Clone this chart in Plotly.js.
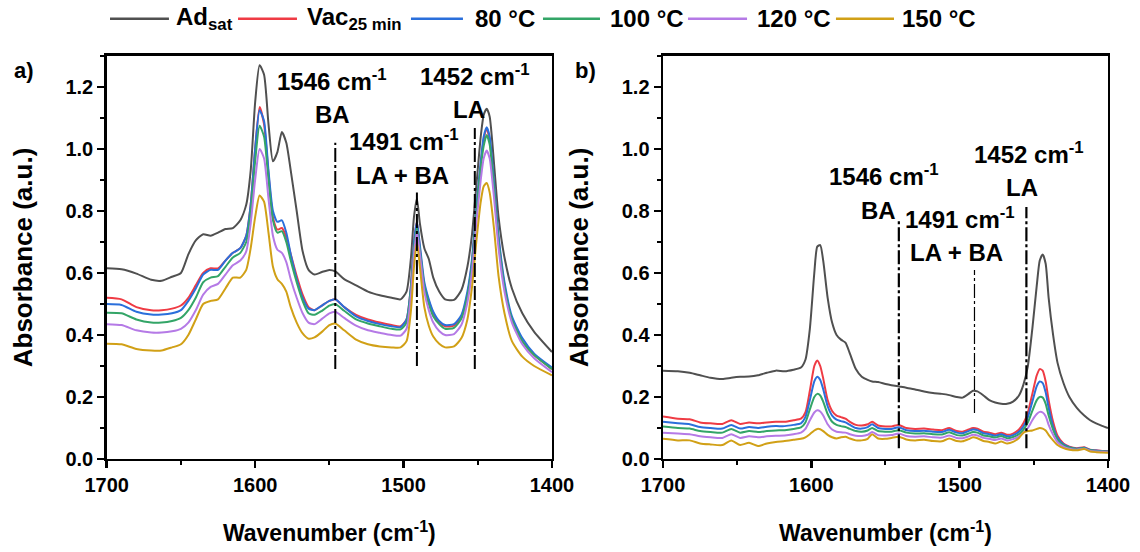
<!DOCTYPE html>
<html>
<head>
<meta charset="utf-8">
<script src="https://cdn.plot.ly/plotly-3.0.1.min.js"></script>
<style>html,body{margin:0;padding:0;background:#fff;}#chart{width:1140px;height:552px;}</style>
</head>
<body>
<div id="chart"></div>
<script>
// ---------- data ----------
const seriesNames = ["Ad<sub>sat</sub>", "Vac<sub>25 min</sub>", "80 °C", "100 °C", "120 °C", "150 °C"];
const seriesColors = ["#505050", "#ef3b44", "#2a6fdb", "#33a567", "#b57ae6", "#d1a016"];

const wnA = [1700,1690,1680,1670,1663,1656,1650,1645,1640,1635,1630,1625,1620,1615,1610,1606,1603,1600,1597,1594,1591,1588,1585,1582,1579,1576,1572,1568,1564,1560,1555,1550,1546,1540,1532,1524,1516,1508,1502,1498,1495,1493,1491,1489,1486,1483,1480,1476,1472,1466,1461,1457,1454,1451,1448,1446,1444,1442,1439,1436,1432,1427,1420,1412,1400];
const adsatA = [0.615,0.612,0.598,0.578,0.575,0.588,0.60,0.66,0.705,0.725,0.72,0.73,0.742,0.745,0.77,0.82,0.93,1.15,1.27,1.24,1.08,0.96,0.99,1.055,1.02,0.93,0.80,0.67,0.61,0.595,0.603,0.61,0.605,0.58,0.56,0.54,0.528,0.52,0.515,0.54,0.65,0.78,0.84,0.76,0.68,0.645,0.585,0.54,0.515,0.513,0.545,0.62,0.72,0.88,1.04,1.11,1.13,1.105,0.95,0.78,0.65,0.55,0.47,0.41,0.345];
const vacA = [0.52,0.515,0.49,0.48,0.48,0.485,0.495,0.52,0.56,0.60,0.615,0.615,0.64,0.665,0.68,0.72,0.82,1.0,1.135,1.08,0.92,0.78,0.74,0.745,0.715,0.66,0.59,0.53,0.49,0.48,0.495,0.51,0.515,0.49,0.465,0.45,0.44,0.432,0.428,0.45,0.56,0.70,0.765,0.68,0.56,0.51,0.47,0.44,0.428,0.43,0.46,0.53,0.63,0.8,0.95,1.03,1.065,1.03,0.88,0.71,0.56,0.45,0.38,0.335,0.29];
const t80A = [0.50,0.497,0.475,0.466,0.466,0.47,0.48,0.51,0.55,0.595,0.61,0.61,0.64,0.665,0.68,0.72,0.82,1.0,1.125,1.09,0.93,0.80,0.765,0.77,0.73,0.66,0.58,0.52,0.485,0.48,0.495,0.51,0.515,0.49,0.46,0.445,0.435,0.428,0.425,0.45,0.56,0.70,0.765,0.69,0.57,0.515,0.475,0.445,0.432,0.435,0.465,0.54,0.64,0.81,0.96,1.04,1.07,1.04,0.89,0.72,0.57,0.46,0.39,0.34,0.295];
const t100A = [0.472,0.47,0.45,0.44,0.44,0.445,0.455,0.48,0.52,0.57,0.585,0.59,0.62,0.65,0.665,0.70,0.80,0.96,1.075,1.04,0.90,0.77,0.73,0.735,0.70,0.64,0.57,0.51,0.47,0.465,0.478,0.495,0.50,0.478,0.45,0.437,0.428,0.42,0.418,0.44,0.55,0.68,0.745,0.67,0.555,0.5,0.46,0.435,0.42,0.423,0.453,0.525,0.62,0.79,0.94,1.01,1.045,1.015,0.87,0.70,0.555,0.45,0.38,0.335,0.29];
const t120A = [0.435,0.432,0.415,0.408,0.408,0.412,0.42,0.44,0.48,0.53,0.555,0.565,0.595,0.625,0.64,0.67,0.76,0.90,1.0,0.97,0.84,0.72,0.675,0.665,0.635,0.58,0.52,0.47,0.44,0.435,0.452,0.47,0.475,0.455,0.43,0.415,0.407,0.40,0.398,0.42,0.53,0.66,0.735,0.66,0.54,0.48,0.44,0.413,0.40,0.403,0.433,0.505,0.60,0.76,0.9,0.97,0.995,0.97,0.84,0.68,0.54,0.44,0.37,0.325,0.28];
const t150A = [0.372,0.37,0.355,0.35,0.35,0.36,0.37,0.40,0.45,0.50,0.51,0.515,0.55,0.585,0.585,0.61,0.68,0.78,0.85,0.83,0.73,0.62,0.58,0.565,0.54,0.49,0.44,0.405,0.388,0.392,0.41,0.432,0.437,0.415,0.385,0.37,0.363,0.36,0.36,0.38,0.48,0.62,0.70,0.62,0.49,0.43,0.395,0.372,0.36,0.363,0.39,0.45,0.55,0.70,0.83,0.88,0.89,0.86,0.74,0.59,0.47,0.38,0.33,0.30,0.27];

const wnB = [1700,1690,1682,1675,1668,1660,1654,1648,1642,1636,1630,1624,1618,1612,1607,1604,1601,1598,1596,1594,1592,1589,1586,1583,1580,1577,1574,1570,1566,1562,1559,1555,1550,1546,1541,1536,1530,1524,1518,1512,1507,1502,1498,1494,1491,1488,1484,1480,1476,1472,1468,1464,1460,1457,1454,1451,1448,1446,1444,1442,1440,1437,1434,1430,1426,1421,1416,1412,1408,1404,1400];
const adsatB = [0.285,0.283,0.278,0.27,0.262,0.258,0.262,0.265,0.266,0.27,0.278,0.285,0.283,0.288,0.295,0.32,0.42,0.6,0.685,0.69,0.64,0.52,0.44,0.40,0.385,0.375,0.34,0.29,0.265,0.255,0.25,0.248,0.242,0.238,0.234,0.23,0.224,0.218,0.213,0.21,0.206,0.2,0.198,0.21,0.22,0.218,0.205,0.19,0.182,0.178,0.178,0.185,0.205,0.24,0.3,0.42,0.56,0.64,0.66,0.63,0.52,0.40,0.31,0.245,0.2,0.165,0.14,0.125,0.115,0.107,0.10];
const vacB = [0.137,0.13,0.128,0.118,0.115,0.113,0.125,0.113,0.118,0.115,0.118,0.12,0.12,0.125,0.13,0.15,0.22,0.30,0.318,0.30,0.26,0.19,0.155,0.14,0.135,0.13,0.12,0.11,0.108,0.112,0.12,0.108,0.105,0.105,0.11,0.1,0.097,0.098,0.095,0.093,0.1,0.09,0.088,0.095,0.1,0.098,0.088,0.085,0.08,0.085,0.078,0.082,0.095,0.115,0.15,0.21,0.27,0.29,0.285,0.25,0.19,0.12,0.075,0.05,0.04,0.035,0.038,0.03,0.028,0.026,0.025];
const t80B = [0.12,0.115,0.112,0.103,0.1,0.098,0.11,0.098,0.103,0.1,0.104,0.106,0.106,0.11,0.115,0.135,0.19,0.25,0.265,0.255,0.225,0.17,0.14,0.127,0.122,0.118,0.11,0.1,0.098,0.103,0.112,0.1,0.097,0.097,0.102,0.093,0.09,0.091,0.088,0.087,0.094,0.085,0.083,0.09,0.095,0.093,0.083,0.08,0.075,0.08,0.073,0.077,0.088,0.105,0.135,0.185,0.235,0.25,0.245,0.215,0.165,0.105,0.068,0.047,0.038,0.033,0.036,0.029,0.027,0.025,0.024];
const t100B = [0.105,0.1,0.098,0.09,0.087,0.085,0.097,0.085,0.09,0.087,0.09,0.092,0.093,0.097,0.102,0.118,0.16,0.2,0.21,0.205,0.185,0.145,0.12,0.11,0.106,0.103,0.097,0.09,0.088,0.092,0.1,0.09,0.088,0.088,0.093,0.085,0.082,0.083,0.08,0.079,0.086,0.077,0.076,0.082,0.087,0.085,0.076,0.073,0.069,0.074,0.067,0.071,0.08,0.095,0.118,0.155,0.19,0.2,0.198,0.178,0.14,0.095,0.062,0.044,0.036,0.032,0.035,0.028,0.026,0.024,0.023];
const t120B = [0.085,0.082,0.08,0.073,0.07,0.068,0.08,0.068,0.073,0.07,0.073,0.075,0.076,0.08,0.085,0.097,0.125,0.15,0.157,0.153,0.14,0.112,0.095,0.088,0.086,0.085,0.08,0.075,0.074,0.078,0.087,0.077,0.076,0.077,0.082,0.074,0.072,0.073,0.07,0.069,0.076,0.068,0.067,0.073,0.078,0.076,0.068,0.065,0.061,0.066,0.06,0.064,0.072,0.085,0.1,0.125,0.145,0.152,0.15,0.138,0.11,0.078,0.054,0.04,0.033,0.03,0.033,0.026,0.024,0.023,0.022];
const t150B = [0.065,0.06,0.06,0.05,0.047,0.045,0.06,0.045,0.052,0.042,0.05,0.055,0.058,0.062,0.065,0.07,0.08,0.092,0.097,0.096,0.09,0.078,0.07,0.066,0.07,0.072,0.066,0.06,0.06,0.065,0.08,0.066,0.065,0.068,0.072,0.063,0.06,0.062,0.058,0.057,0.066,0.058,0.057,0.064,0.07,0.067,0.058,0.055,0.05,0.056,0.05,0.055,0.068,0.085,0.09,0.092,0.097,0.1,0.098,0.092,0.078,0.06,0.045,0.035,0.03,0.028,0.032,0.024,0.022,0.021,0.02];

// marker lines (wavenumber, top, bottom)
const markA_wn = [1546, 1491, 1452];
const markA_top = [1.02, 0.86, 1.068];
const markA_bot = [0.29, 0.30, 0.29];
const markB_wn = [1541, 1490, 1455];
const markB_top = [0.77, 0.61, 0.813];
const markB_bot = [0.035, 0.148, 0.035];

const xTicks = [1700, 1600, 1500, 1400];
const yTicks = [0, 0.2, 0.4, 0.6, 0.8, 1.0, 1.2];

// ---------- build ----------
const seriesA = [adsatA, vacA, t80A, t100A, t120A, t150A];
const seriesB = [adsatB, vacB, t80B, t100B, t120B, t150B];
const FONT = "'Liberation Sans', Arial, sans-serif";
const traces = [];
seriesA.forEach((ys, i) => traces.push({
  type: 'scatter', mode: 'lines', x: wnA, y: ys, xaxis: 'x', yaxis: 'y',
  name: seriesNames[i], showlegend: false,
  line: {color: seriesColors[i], width: 2, shape: 'spline', smoothing: 0.6}
}));
seriesB.forEach((ys, i) => traces.push({
  type: 'scatter', mode: 'lines', x: wnB, y: ys, xaxis: 'x2', yaxis: 'y2',
  name: seriesNames[i], showlegend: false,
  line: {color: seriesColors[i], width: 2, shape: 'spline', smoothing: 0.6}
}));

const DASHDOT = '14px,3px,3px,3px';
const shapes = [];
markA_wn.forEach((w, i) => shapes.push({type: 'line', xref: 'x', yref: 'y', x0: w, x1: w, y0: markA_bot[i], y1: markA_top[i], line: {color: '#000', width: 2, dash: DASHDOT}}));
markB_wn.forEach((w, i) => shapes.push({type: 'line', xref: 'x2', yref: 'y2', x0: w, x1: w, y0: markB_bot[i], y1: markB_top[i], line: {color: '#000', width: (i === 1 ? 1.2 : 2.2), dash: DASHDOT}}));

// legend drawn at the top (line sample + label)
const legLineX0 = [0.0965, 0.2088, 0.3605, 0.4763, 0.6035, 0.7333];
const legLineX1 = [0.1482, 0.2605, 0.4061, 0.5263, 0.6553, 0.7842];
const legTextX  = [0.1526, 0.2675, 0.4149, 0.5333, 0.6623, 0.7895];
const LEG_Y = 0.966;
seriesNames.forEach((n, i) => shapes.push({type: 'line', xref: 'paper', yref: 'paper', x0: legLineX0[i], x1: legLineX1[i], y0: LEG_Y, y1: LEG_Y, line: {color: seriesColors[i], width: 2.5}}));

const annFont = {family: FONT, size: 24, color: '#000', weight: 'bold'};
function ann(xref, yref, x, y, text) {
  return {xref: xref, yref: yref, x: x, y: y, text: text, showarrow: false, font: annFont, xanchor: 'center', yanchor: 'middle'};
}
const annotations = [
  ann('x', 'y', 1548, 1.222, '1546 cm<sup>-1</sup>'),
  ann('x', 'y', 1548, 1.11, 'BA'),
  ann('x', 'y', 1500, 1.03, '1491 cm<sup>-1</sup>'),
  ann('x', 'y', 1501, 0.916, 'LA + BA'),
  ann('x', 'y', 1452, 1.239, '1452 cm<sup>-1</sup>'),
  ann('x', 'y', 1456, 1.126, 'LA'),
  ann('x2', 'y2', 1551, 0.916, '1546 cm<sup>-1</sup>'),
  ann('x2', 'y2', 1555, 0.803, 'BA'),
  ann('x2', 'y2', 1500, 0.777, '1491 cm<sup>-1</sup>'),
  ann('x2', 'y2', 1502, 0.665, 'LA + BA'),
  ann('x2', 'y2', 1453, 0.987, '1452 cm<sup>-1</sup>'),
  ann('x2', 'y2', 1458, 0.877, 'LA'),
  {xref: 'paper', yref: 'paper', x: 0.021, y: 0.873, xanchor: 'center', yanchor: 'middle', text: 'a)', showarrow: false, font: {family: FONT, size: 22, color: '#000', weight: 'bold'}},
  {xref: 'paper', yref: 'paper', x: 0.514, y: 0.873, xanchor: 'center', yanchor: 'middle', text: 'b)', showarrow: false, font: {family: FONT, size: 22, color: '#000', weight: 'bold'}}
];
seriesNames.forEach((n, i) => annotations.push({xref: 'paper', yref: 'paper', x: legTextX[i], y: LEG_Y, xanchor: 'left', yanchor: 'middle', text: n, showarrow: false, font: {family: FONT, size: 24, color: '#000', weight: 'bold'}}));

function xax(domain, anchor) {
  return {
    domain: domain, anchor: anchor, range: [1700, 1400], autorange: false,
    tickvals: xTicks, ticks: 'outside', ticklen: 7, tickwidth: 2.5, tickcolor: '#000',
    showline: true, linewidth: 2.5, linecolor: '#000', mirror: true,
    showgrid: false, zeroline: false,
    minor: {tickvals: [1650, 1550, 1450], ticks: 'outside', ticklen: 4, tickwidth: 2, tickcolor: '#000'},
    tickfont: {family: FONT, size: 20, color: '#000', weight: 'bold'},
    title: {text: 'Wavenumber (cm<sup>-1</sup>)', font: {family: FONT, size: 23, color: '#000', weight: 'bold'}, standoff: 30}
  };
}
function yax(anchor) {
  return {
    domain: [0.1685, 0.8986], anchor: anchor, range: [0, 1.3], autorange: false,
    tickvals: yTicks, tickformat: '.1f', ticks: 'outside', ticklen: 7, tickwidth: 2.5, tickcolor: '#000',
    showline: true, linewidth: 2.5, linecolor: '#000', mirror: true,
    showgrid: false, zeroline: false,
    minor: {dtick: 0.1, tick0: 0, ticks: 'outside', ticklen: 4, tickwidth: 2, tickcolor: '#000'},
    tickfont: {family: FONT, size: 20, color: '#000', weight: 'bold'},
    title: {text: 'Absorbance (a.u.)', font: {family: FONT, size: 26, color: '#000', weight: 'bold'}, standoff: 26}
  };
}

const layout = {
  width: 1140, height: 552,
  margin: {l: 0, r: 0, t: 0, b: 0},
  paper_bgcolor: '#fff', plot_bgcolor: '#fff',
  showlegend: false,
  xaxis: xax([0.0936, 0.4842], 'y'),
  yaxis: yax('x'),
  xaxis2: xax([0.5816, 0.9719], 'y2'),
  yaxis2: yax('x2'),
  shapes: shapes,
  annotations: annotations
};

Plotly.newPlot('chart', traces, layout, {staticPlot: true, displayModeBar: false});
</script>
</body>
</html>
